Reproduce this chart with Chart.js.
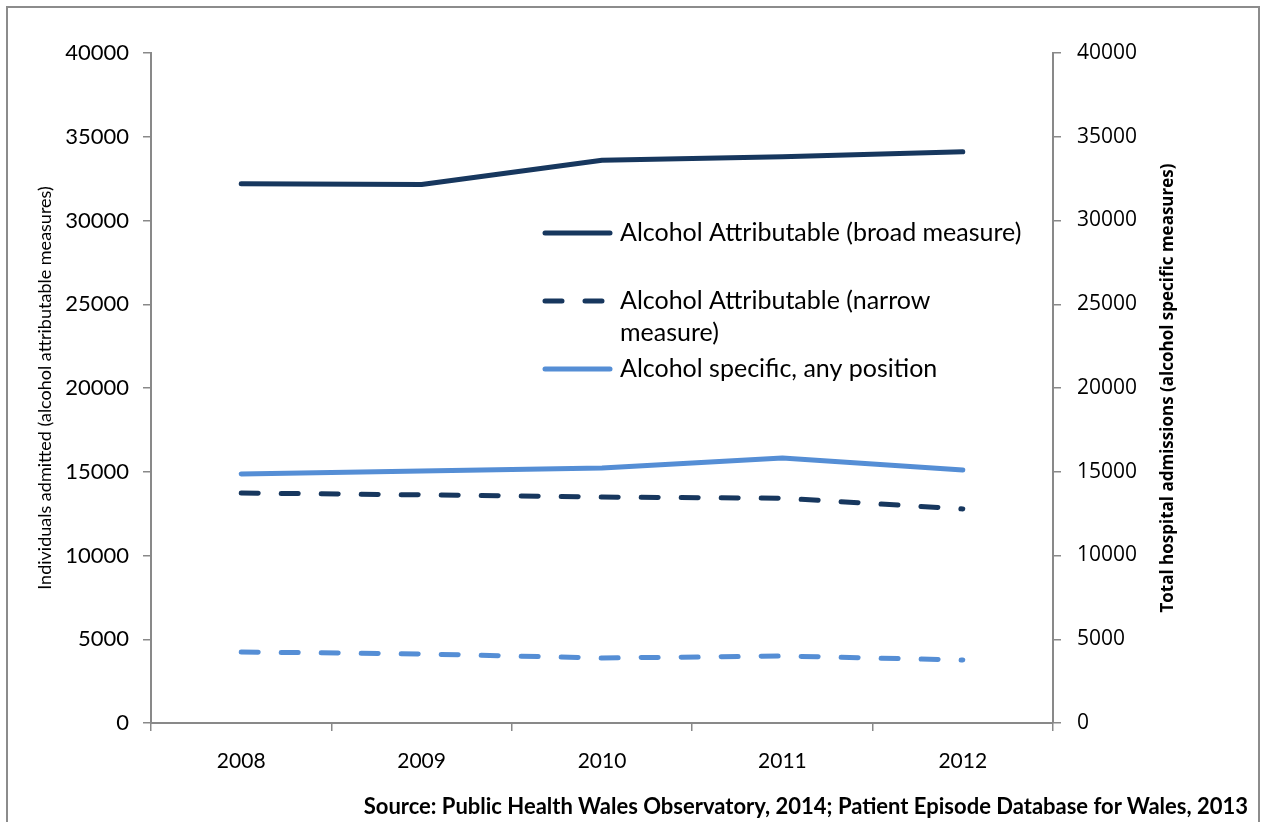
<!DOCTYPE html>
<html>
<head>
<meta charset="utf-8">
<script src="https://cdn.jsdelivr.net/npm/chart.js@4/dist/chart.umd.min.js"></script>
<style>
  body { margin: 0; background: #fff; }
  #wrap { position: relative; width: 1266px; height: 822px; overflow: hidden; }
  #frame { position: absolute; left: 6px; top: 6px; width: 1250px; height: 840px;
           border: 2px solid #8c8c8c; border-bottom: none; }
  #source { position: absolute; right: 18px; top: 792px; font: bold 22px Lato, sans-serif; color: #000; }
</style>
</head>
<body>
<div id="wrap">
  <div id="frame"></div>
  <canvas id="chart"></canvas>
  <div id="source">Source: Public Health Wales Observatory, 2014; Patient Episode Database for Wales, 2013</div>
</div>
<script>
// years along the bottom
const years = ["2008", "2009", "2010", "2011", "2012"];

// left axis series (individuals admitted)
const broadMeasure = [32200, 32150, 33600, 33800, 34100];
const narrowMeasure = [13730, 13620, 13490, 13420, 12780];

// right axis series (total hospital admissions)
const specificAny = [14870, 15040, 15220, 15820, 15100];
const specificPrimary = [4240, 4120, 3880, 4000, 3760];

const navy = "#17375E";
const lightBlue = "#558ED5";
const axisGrey = "#898989";

// legend drawn inside the plot, like the original
const legendBox = {
  id: "legendBox",
  afterDatasetsDraw(chart) {
    const ctx = chart.ctx;
    const rows = [
      { ds: 0, y: 233, lines: ["Alcohol Attributable (broad measure)"] },
      { ds: 1, y: 301, lines: ["Alcohol Attributable (narrow", "measure)"] },
      { ds: 2, y: 369, lines: ["Alcohol specific, any position"] },
    ];
    ctx.save();
    rows.forEach((r) => {
      const d = chart.data.datasets[r.ds];
      ctx.strokeStyle = d.borderColor;
      ctx.lineWidth = d.borderWidth;
      ctx.lineCap = "round";
      ctx.setLineDash(d.borderDash || []);
      ctx.beginPath();
      ctx.moveTo(545, r.y);
      ctx.lineTo(610, r.y);
      ctx.stroke();
      ctx.setLineDash([]);
      ctx.fillStyle = "#000";
      ctx.font = "25px Lato, sans-serif";
      ctx.textBaseline = "middle";
      r.lines.forEach((t, i) => ctx.fillText(t, 620, r.y + i * 32));
    });

    // right axis title reads bottom-to-top in the original
    const area = chart.chartArea;
    ctx.translate(1168, (area.top + area.bottom) / 2);
    ctx.rotate(-Math.PI / 2);
    ctx.font = "bold 17px 'Open Sans', sans-serif";
    ctx.textAlign = "center";
    ctx.textBaseline = "middle";
    ctx.fillText("Total hospital admissions (alcohol specific measures)", 0, 0);
    ctx.restore();
  },
};

const lineStyle = { pointRadius: 0, borderWidth: 5, tension: 0, borderCapStyle: "round", borderJoinStyle: "round", fill: false };
const plain = (v) => String(v);

new Chart(document.getElementById("chart"), {
  type: "line",
  data: {
    labels: years,
    datasets: [
      { ...lineStyle, label: "Alcohol Attributable (broad measure)", data: broadMeasure, borderColor: navy, yAxisID: "y" },
      { ...lineStyle, label: "Alcohol Attributable (narrow measure)", data: narrowMeasure, borderColor: navy, borderDash: [17, 23], yAxisID: "y" },
      { ...lineStyle, label: "Alcohol specific, any position", data: specificAny, borderColor: lightBlue, yAxisID: "y1" },
      { ...lineStyle, label: "Alcohol specific, primary position", data: specificPrimary, borderColor: lightBlue, borderDash: [17, 23], yAxisID: "y1" },
    ],
  },
  options: {
    responsive: true,
    maintainAspectRatio: false,
    animation: false,
    layout: { padding: { top: 53, left: 0, right: 0, bottom: 0 } },
    plugins: { legend: { display: false }, tooltip: { enabled: false } },
    scales: {
      x: {
        offset: true,
        grid: { offset: true, drawOnChartArea: false, color: axisGrey, tickLength: 8, lineWidth: 1.5 },
        border: { color: axisGrey, width: 2 },
        ticks: { color: "#000", font: { family: "Lato", size: 21 }, padding: 18 },
        afterFit: (s) => { s.height = 99; },
      },
      y: {
        position: "left",
        min: 0,
        max: 40000,
        ticks: { stepSize: 5000, callback: plain, color: "#000", font: { family: "Lato", size: 22 }, padding: 14 },
        grid: { drawOnChartArea: false, color: axisGrey, tickLength: 8, lineWidth: 1.5 },
        border: { color: axisGrey, width: 2 },
        title: { display: true, text: "Individuals admitted (alcohol attributable measures)", color: "#000", font: { family: "Lato", size: 18 }, padding: { top: 34 } },
        afterFit: (s) => { s.width = 151; },
      },
      y1: {
        position: "right",
        min: 0,
        max: 40000,
        ticks: { stepSize: 5000, callback: plain, color: "#000", font: { family: "Open Sans", size: 21 }, padding: 16 },
        grid: { drawOnChartArea: false, color: axisGrey, tickLength: 8, lineWidth: 1.5 },
        border: { color: axisGrey, width: 2 },
        afterFit: (s) => { s.width = 213; },
      },
    },
  },
  plugins: [legendBox],
});
</script>
</body>
</html>
